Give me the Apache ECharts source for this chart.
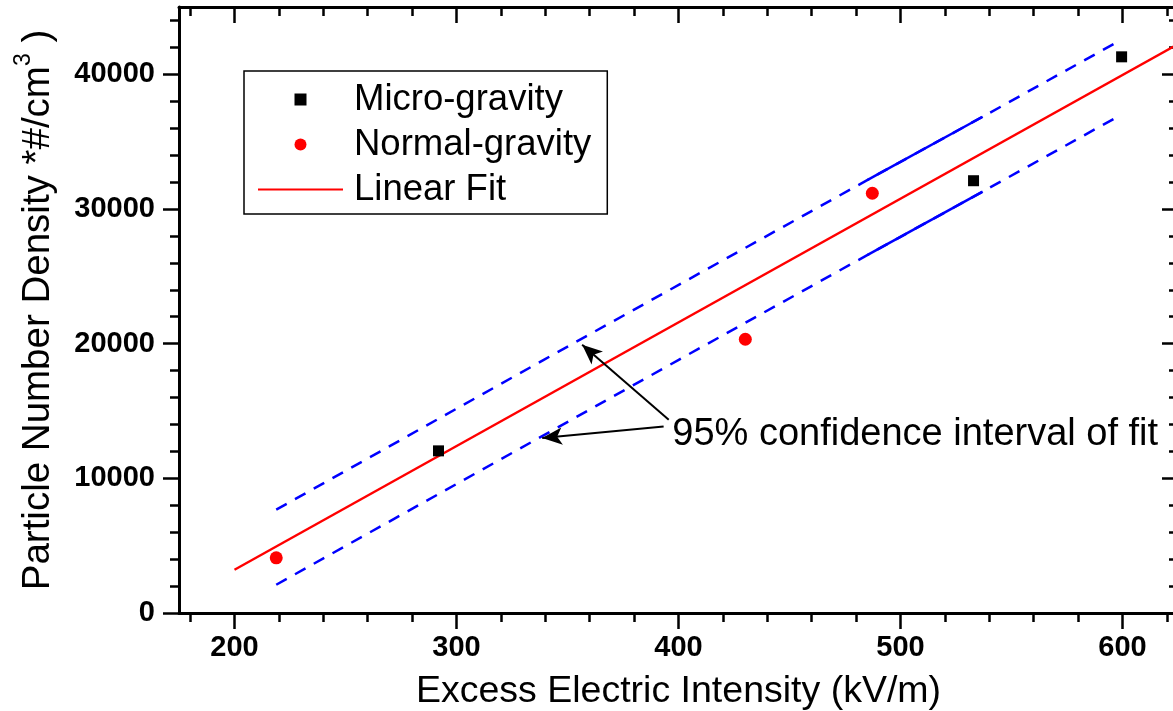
<!DOCTYPE html>
<html>
<head>
<meta charset="utf-8">
<script src="https://cdn.jsdelivr.net/npm/echarts@6/dist/echarts.min.js"></script>
<style>
html,body{margin:0;padding:0;background:#fff;}
#chart{width:1173px;height:711px;}
</style>
</head>
<body>
<div id="chart"></div>
<script>
// ---- tick values ----
const xMajorTicks = [200, 300, 400, 500, 600];
const xMinorTicks = [180, 220, 240, 260, 280, 320, 340, 360, 380, 420, 440, 460, 480, 520, 540, 560, 580, 620];
const yMajorTicks = [0, 10000, 20000, 30000, 40000];
const yMinorTicks = [2000, 4000, 6000, 8000, 12000, 14000, 16000, 18000, 22000, 24000, 26000, 28000, 32000, 34000, 36000, 38000, 42000, 44000];

// ---- series values ----
const microX = [291.9, 532.9, 599.6];
const microY = [12040, 32100, 41300];
const normalX = [218.8, 430.1, 487.3];
const normalY = [4100, 20330, 31170];
const fitX = [200, 625];
const fitY = [3213, 42250];
const upperX = [218.8, 339.3, 485.2, 537.0, 597.0];
const upperY = [7670, 18800, 32160, 36850, 42340];
const lowerX = [218.8, 400.1, 485.2, 537.0, 597.0];
const lowerY = [2100, 18800, 26590, 31290, 36780];
const solidX = [485.2, 537.0];
const upperSolidY = [32160, 36850];
const lowerSolidY = [26590, 31290];

// ---- annotation ----
const arrowTailX = [395.6, 393.3];
const arrowTailY = [14345, 13848];
const arrowTipX = [356.6, 338.6];
const arrowTipY = [19911, 12987];
const noteText = '95% confidence interval of fit';
const noteX = 397.2;
const noteY = 13232;

const FONT = 'Liberation Sans, Arial, sans-serif';
const zip = (xs, ys) => xs.map((x, i) => [x, ys[i]]);

const X_MIN = 175, X_MAX = 625, Y_MIN = 0, Y_MAX = 45000;

function xAx(pos, ticks, len, inside, main) {
  return {
    type: 'value', position: pos, min: X_MIN, max: X_MAX,
    axisLine: { show: main, onZero: false, lineStyle: { color: '#000', width: 3 } },
    axisTick: { show: true, customValues: ticks, inside: inside, length: len, lineStyle: { color: '#000', width: 2.5 } },
    axisLabel: (main && pos === 'bottom') ? {
      show: true, customValues: xMajorTicks, margin: 20, formatter: v => String(v),
      color: '#000', fontFamily: FONT, fontWeight: 'bold', fontSize: 29
    } : { show: false },
    splitLine: { show: false },
    name: (main && pos === 'bottom') ? 'Excess Electric Intensity (kV/m)' : '',
    nameLocation: 'middle', nameGap: 60,
    nameTextStyle: { color: '#000', fontFamily: FONT, fontSize: 37.5 }
  };
}
function yAx(pos, ticks, len, inside, main) {
  const o = {
    type: 'value', position: pos, min: Y_MIN, max: Y_MAX,
    axisLine: { show: main, onZero: false, lineStyle: { color: '#000', width: 3 } },
    axisTick: { show: true, customValues: ticks, inside: inside, length: len, lineStyle: { color: '#000', width: 2.5 } },
    axisLabel: (main && pos === 'left') ? {
      show: true, customValues: yMajorTicks, margin: 24, formatter: v => String(v),
      color: '#000', fontFamily: FONT, fontWeight: 'bold', fontSize: 29
    } : { show: false },
    splitLine: { show: false }
  };
  if (main && pos === 'left') {
    o.name = '{a|Particle Number Density *#/cm}{s|3}{a| )}';
    o.nameLocation = 'middle';
    o.nameGap = 121;
    o.nameTextStyle = {
      color: '#000', fontFamily: FONT, fontSize: 38.5,
      rich: {
        a: { color: '#000', fontFamily: FONT, fontSize: 38.5, lineHeight: 46, verticalAlign: 'bottom' },
        s: { color: '#000', fontFamily: FONT, fontSize: 23, lineHeight: 46, verticalAlign: 'top' }
      }
    };
  }
  return o;
}

const chart = echarts.init(document.getElementById('chart'), null, { renderer: 'canvas' });
chart.setOption({
  animation: false,
  backgroundColor: '#fff',
  grid: { left: 179, top: 7, width: 999, height: 606, containLabel: false, outerBoundsMode: 'none' },
  xAxis: [
    xAx('bottom', xMajorTicks, 16, false, true),
    xAx('bottom', xMinorTicks, 9, false, false),
    xAx('top', xMajorTicks, 16, true, true),
    xAx('top', xMinorTicks, 9, true, false)
  ],
  yAxis: [
    yAx('left', yMajorTicks, 16, false, true),
    yAx('left', yMinorTicks, 9, false, false),
    yAx('right', yMajorTicks, 16, true, true),
    yAx('right', yMinorTicks, 9, true, false)
  ],
  legend: {
    orient: 'vertical', left: 244, top: 71,
    data: [
      { name: 'Micro-gravity', icon: 'path://M0,0H10V10H0Z' },
      { name: 'Normal-gravity', icon: 'circle' },
      { name: 'Linear Fit', icon: 'path://M0,0H85V2H0Z' }
    ],
    itemWidth: 85, itemHeight: 12, itemGap: 0,
    selectedMode: false,
    borderColor: '#000', borderWidth: 1.5, borderRadius: 0,
    padding: [6, 16, 2, 14],
    textStyle: { color: '#000', fontFamily: FONT, fontSize: 36.5, lineHeight: 45, padding: [0, 0, 0, 6] }
  },
  series: [
    {
      name: 'Linear Fit', type: 'line', data: zip(fitX, fitY), symbol: 'none',
      lineStyle: { color: '#ff0000', width: 2.4 }, itemStyle: { color: '#ff0000' }, z: 3,
      markLine: {
        silent: true, animation: false, symbol: ['none', 'arrow'], symbolSize: [13, 20],
        lineStyle: { color: '#000', width: 2, type: 'solid' },
        label: { show: false },
        data: arrowTailX.map((x, i) => [
          { coord: [x, arrowTailY[i]] },
          { coord: [arrowTipX[i], arrowTipY[i]] }
        ])
      },
      markPoint: {
        silent: true, animation: false,
        data: [{ coord: [noteX, noteY], symbol: 'circle', symbolSize: 0,
          label: { show: true, position: 'right', distance: 0, formatter: noteText,
            color: '#000', fontFamily: FONT, fontSize: 38 } }]
      }
    },
    {
      name: 'Upper95', type: 'line', data: zip(upperX, upperY), symbol: 'none',
      lineStyle: { color: '#0000ff', width: 2.5, type: [12, 9.5] }, z: 2
    },
    {
      name: 'Lower95', type: 'line', data: zip(lowerX, lowerY), symbol: 'none',
      lineStyle: { color: '#0000ff', width: 2.5, type: [12, 9.5] }, z: 2
    },
    {
      name: 'UpperSolid', type: 'line', data: zip(solidX, upperSolidY), symbol: 'none',
      lineStyle: { color: '#0000ff', width: 2.5 }, z: 2
    },
    {
      name: 'LowerSolid', type: 'line', data: zip(solidX, lowerSolidY), symbol: 'none',
      lineStyle: { color: '#0000ff', width: 2.5 }, z: 2
    },
    {
      name: 'Micro-gravity', type: 'scatter', data: zip(microX, microY),
      symbol: 'rect', symbolSize: 11, itemStyle: { color: '#000', opacity: 1 }, z: 4
    },
    {
      name: 'Normal-gravity', type: 'scatter', data: zip(normalX, normalY),
      symbol: 'circle', symbolSize: 13, itemStyle: { color: '#ff0000', opacity: 1 }, z: 4
    }
  ]
});
</script>
</body>
</html>
